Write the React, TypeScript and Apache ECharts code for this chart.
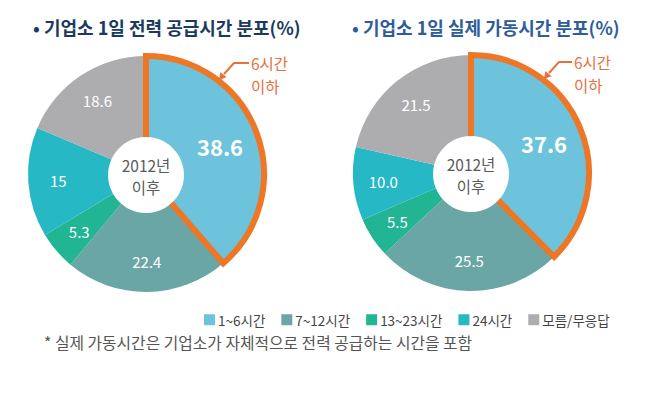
import React, { useEffect, useRef } from "react";
import * as echarts from "echarts";

const categories = ["1~6시간", "7~12시간", "13~23시간", "24시간", "모름/무응답"];
const supplyValues = [38.6, 22.4, 5.3, 15, 18.6];
const supplyLabels = ["38.6", "22.4", "5.3", "15", "18.6"];
const operationValues = [37.6, 25.5, 5.5, 10.0, 21.5];
const operationLabels = ["37.6", "25.5", "5.5", "10.0", "21.5"];
const colors = ["#6DC3DC", "#6BA6A7", "#22B594", "#27B8C6", "#ADADB0"];
const titles = ["• 기업소 1일 전력 공급시간 분포(%)", "• 기업소 1일 실제 가동시간 분포(%)"];
const centerLines = ["2012년", "이후"];
const noteLines = ["6시간", "이하"];
const footnote = "* 실제 가동시간은 기업소가 자체적으로 전력 공급하는 시간을 포함";

const FONT = "'Noto Sans CJK KR', 'Noto Sans', sans-serif";
const ORANGE = "#EE7624";
const ORANGE_TEXT = "#E4723D";

function arrowHead(tip: number[], from: number[]) {
  const dx = tip[0] - from[0];
  const dy = tip[1] - from[1];
  const len = Math.hypot(dx, dy);
  const ux = dx / len, uy = dy / len;
  const bx = tip[0] - ux * 7, by = tip[1] - uy * 7;
  const px = -uy * 4, py = ux * 4;
  return [tip, [bx + px, by + py], [bx - px, by - py]];
}

function pieSeries(values: number[], labels: string[], center: number[]) {
  const base = {
    type: "pie",
    center,
    startAngle: 90,
    clockwise: true,
    avoidLabelOverlap: false,
    silent: true,
    emphasis: { disabled: true },
    labelLine: { show: false },
  };
  return [
    {
      ...base,
      radius: [0, 118],
      label: { show: false },
      data: values.map((v, i) => ({ name: categories[i], value: v, itemStyle: { color: colors[i], borderWidth: 0 } })),
    },
    {
      ...base,
      radius: [52, 118],
      label: { show: true, position: "inside", color: "#fff", fontSize: 15, fontFamily: FONT },
      data: values.map((v, i) => ({
        name: categories[i],
        value: v,
        itemStyle: { color: "rgba(0,0,0,0)", borderWidth: 0 },
        label: { show: i !== 0, formatter: labels[i] },
      })),
    },
    {
      ...base,
      radius: [34, 118],
      label: { show: true, position: "inside", color: "#fff", fontSize: 22, fontWeight: "bold", fontFamily: FONT },
      data: values.map((v, i) => ({
        name: categories[i],
        value: v,
        itemStyle:
          i === 0
            ? { color: "rgba(0,0,0,0)", borderColor: ORANGE, borderWidth: 6, borderJoin: "miter" }
            : { color: "rgba(0,0,0,0)", borderWidth: 0 },
        label: { show: i === 0, formatter: labels[i] },
      })),
    },
  ];
}

export default function App() {
  const ref = useRef<HTMLDivElement>(null);
  useEffect(() => {
    document.body.style.margin = "0";
    const chart = echarts.init(ref.current!, null, { renderer: "svg" });
    const leftC = [146, 174];
    const rightC = [471, 173];
    const centerGraphics = [leftC, rightC].flatMap((c) => [
      { type: "circle", z: 100, shape: { cx: c[0], cy: c[1] + 1, r: 38 }, style: { fill: "#fff" } },
      ...centerLines.map((t, k) => ({
        type: "text",
        z: 101,
        x: c[0],
        y: c[1] - 9 + k * 22,
        style: { text: t, fill: "#5A5A5A", font: `15.5px ${FONT}`, align: "center", verticalAlign: "middle" },
      })),
    ]);
    const arrows = [
      { pts: [[249, 63], [234, 63], [224, 74]], tip: [219, 80], text: [251, 63] },
      { pts: [[572, 62], [559, 62], [549, 73]], tip: [544, 79], text: [574, 62] },
    ];
    const arrowGraphics = arrows.flatMap((a) => [
      { type: "polyline", z: 100, shape: { points: a.pts }, style: { stroke: ORANGE_TEXT, lineWidth: 2, fill: null } },
      { type: "polygon", z: 100, shape: { points: arrowHead(a.tip, a.pts[2]) }, style: { fill: ORANGE_TEXT } },
      ...noteLines.map((t, k) => ({
        type: "text",
        z: 100,
        x: a.text[0],
        y: a.text[1] + k * 22.5,
        style: { text: t, fill: ORANGE_TEXT, font: `15.5px ${FONT}`, verticalAlign: "middle" },
      })),
    ]);
    chart.setOption({
      animation: false,
      backgroundColor: "#fff",
      title: [
        { text: titles[0], left: 28, top: 13, textStyle: { color: "#1C3A5E", fontSize: 18, fontWeight: "bold", fontFamily: FONT } },
        { text: titles[1], left: 347, top: 13, textStyle: { color: "#2E5D9A", fontSize: 18, fontWeight: "bold", fontFamily: FONT } },
      ],
      legend: {
        left: 199,
        top: 308,
        icon: "rect",
        itemWidth: 11,
        itemHeight: 11,
        itemGap: 16,
        selectedMode: false,
        textStyle: { color: "#444", fontSize: 13.5, fontFamily: FONT, padding: [0, 0, 0, -2] },
        data: categories.map((c, i) => ({ name: c, itemStyle: { color: colors[i] } })),
      },
      series: [...pieSeries(supplyValues, supplyLabels, leftC), ...pieSeries(operationValues, operationLabels, rightC)],
      graphic: [
        ...centerGraphics,
        ...arrowGraphics,
        {
          type: "text",
          left: 44,
          top: 335,
          style: { text: footnote, fill: "#555", font: `15.8px ${FONT}` },
        },
      ],
    });
    return () => chart.dispose();
  }, []);
  return <div ref={ref} style={{ width: 655, height: 402 }} />;
}
